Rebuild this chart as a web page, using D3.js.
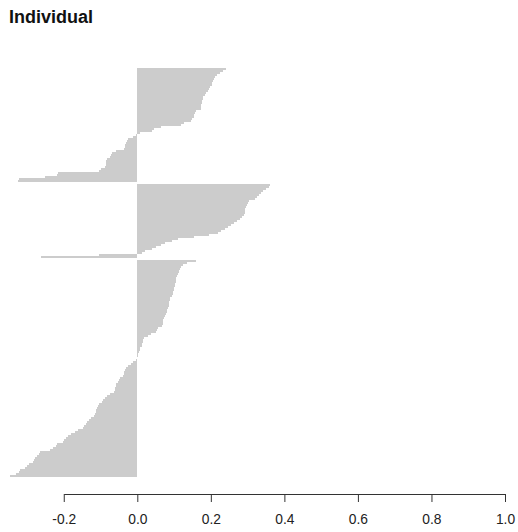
<!DOCTYPE html>
<html>
<head>
<meta charset="utf-8">
<script src="https://cdn.jsdelivr.net/npm/d3@7"></script>
<style>
  html, body { margin: 0; padding: 0; background: #fff; }
  svg { display: block; font-family: "Liberation Sans", Arial, sans-serif; }
</style>
</head>
<body>
<svg id="chart" width="518" height="532"></svg>
<script>
// Silhouette widths per cluster, in plotting order (top to bottom)
const cluster1 = [
  0.242, 0.233, 0.225, 0.218, 0.212, 0.209, 0.206, 0.204, 0.202, 0.199,
  0.195, 0.192, 0.188, 0.183, 0.180, 0.178, 0.177, 0.175, 0.174, 0.173,
  0.172, 0.160, 0.157, 0.155, 0.153, 0.150, 0.147, 0.127, 0.118, 0.065,
  0.045, 0.040, 0.006,
  -0.003, -0.012, -0.025, -0.028, -0.032, -0.033, -0.034, -0.036, -0.058, -0.068,
  -0.072, -0.074, -0.082, -0.084, -0.085, -0.086, -0.088, -0.098, -0.105, -0.215,
  -0.218, -0.250, -0.322, -0.324
];
const cluster2 = [
  0.362, 0.358, 0.350, 0.343, 0.337, 0.332, 0.325, 0.320, 0.305, 0.300,
  0.297, 0.295, 0.294, 0.293, 0.292, 0.290, 0.286, 0.280, 0.272, 0.262,
  0.255, 0.248, 0.238, 0.228, 0.220, 0.195, 0.155, 0.110, 0.095, 0.075,
  0.065, 0.050, 0.040, 0.022, 0.012,
  -0.105, -0.262
];
const cluster3 = [
  0.160, 0.135, 0.125, 0.118, 0.116, 0.114, 0.112, 0.108, 0.106, 0.105,
  0.104, 0.103, 0.102, 0.100, 0.099, 0.098, 0.096, 0.094, 0.090, 0.088,
  0.087, 0.086, 0.085, 0.084, 0.082, 0.080, 0.078, 0.076, 0.072, 0.071,
  0.070, 0.069, 0.068, 0.057, 0.054, 0.050, 0.036, 0.030, 0.018, 0.016,
  0.015, 0.014, 0.012, 0.008, 0.007, 0.004, 0.002, 0.001,
  -0.001, -0.004, -0.012, -0.018, -0.025, -0.030, -0.033, -0.035, -0.036, -0.038,
  -0.048, -0.050, -0.052, -0.057, -0.059, -0.060, -0.062, -0.064, -0.075, -0.082,
  -0.088, -0.093, -0.097, -0.105, -0.108, -0.110, -0.111, -0.113, -0.115, -0.118,
  -0.127, -0.132, -0.136, -0.140, -0.145, -0.148, -0.160, -0.170, -0.180, -0.188,
  -0.193, -0.198, -0.203, -0.218, -0.222, -0.228, -0.238, -0.265, -0.268, -0.272,
  -0.278, -0.282, -0.285, -0.295, -0.300, -0.305, -0.318, -0.322, -0.330, -0.345
];
const clusters = [cluster1, cluster2, cluster3];
const tickValues = [-0.2, 0.0, 0.2, 0.4, 0.6, 0.8, 1.0];
const title = "Individual";

const svg = d3.select("#chart");

// One slot per observation, plus one empty slot between clusters
const bars = [];
let slot = 0;
clusters.forEach((vals, ci) => {
  if (ci > 0) slot += 1;
  vals.forEach(v => { bars.push({ slot: slot, value: v, cluster: ci }); slot += 1; });
});
const totalSlots = slot;

const x = d3.scaleLinear().domain([0, 1]).range([137.3, 505.0]);
const y = d3.scaleLinear().domain([0, totalSlots]).range([68, 477]);

svg.append("g")
  .attr("shape-rendering", "crispEdges")
  .selectAll("rect")
  .data(bars)
  .join("rect")
  .attr("x", d => x(Math.min(0, d.value)))
  .attr("width", d => Math.abs(x(d.value) - x(0)))
  .attr("y", d => y(d.slot))
  .attr("height", d => y(d.slot + 1) - y(d.slot))
  .attr("fill", "#cccccc");

// Horizontal axis
const axisScale = d3.scaleLinear()
  .domain([tickValues[0], tickValues[tickValues.length - 1]])
  .range([x(tickValues[0]), x(tickValues[tickValues.length - 1])]);

const axis = svg.append("g")
  .attr("transform", "translate(0,494)")
  .call(d3.axisBottom(axisScale)
    .tickValues(tickValues)
    .tickSize(8)
    .tickSizeOuter(0)
    .tickPadding(12)
    .tickFormat(d => d.toFixed(1)));
axis.select(".domain").attr("stroke", "#333");
axis.selectAll(".tick line").attr("stroke", "#333");
axis.selectAll(".tick text")
  .attr("fill", "#222")
  .style("font-size", "13.8px")
  .style("font-family", "'Liberation Sans', Arial, sans-serif");

// Title
svg.append("text")
  .attr("x", 9)
  .attr("y", 23)
  .attr("fill", "#111")
  .style("font-size", "18px")
  .style("font-weight", "bold")
  .text(title);
</script>
</body>
</html>
